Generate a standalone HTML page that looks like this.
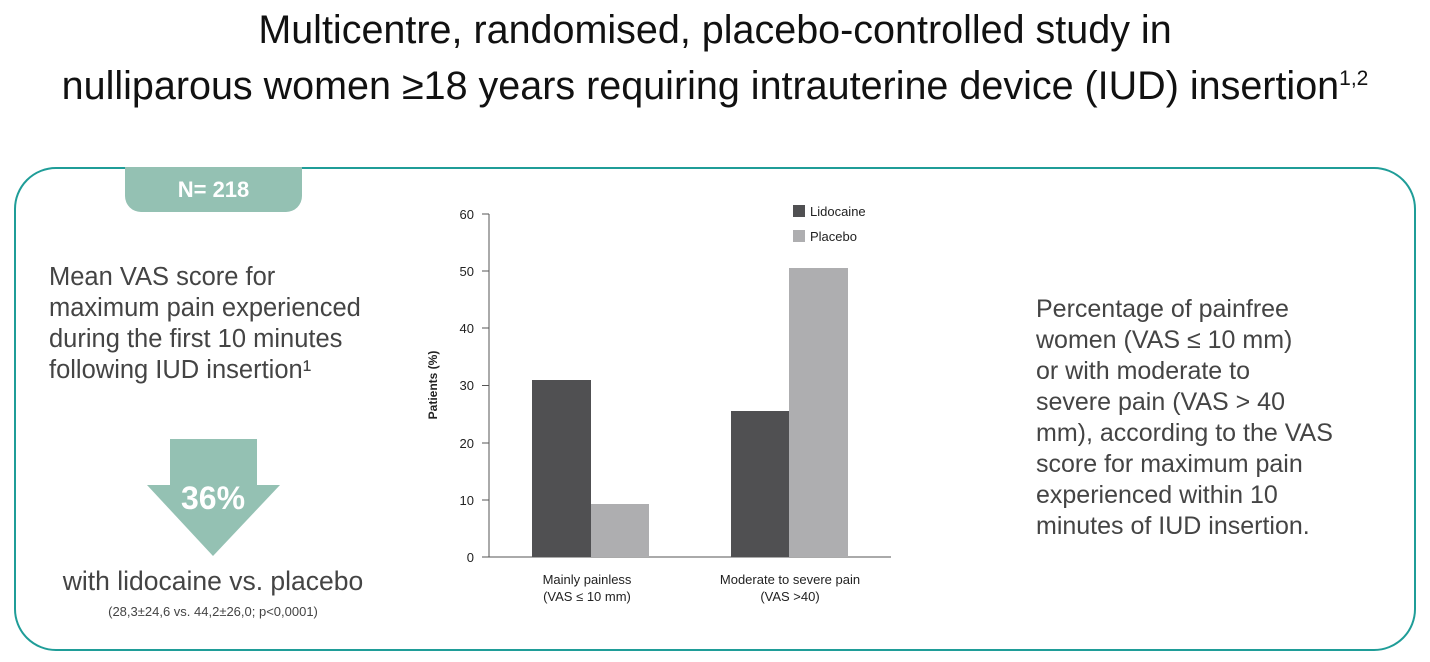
<!DOCTYPE html>
<html><head><meta charset="utf-8"><style>
body{margin:0;width:1430px;height:662px;background:#fff;font-family:"Liberation Sans",sans-serif;color:#333;position:relative;overflow:hidden}
.t{position:absolute;left:0;width:1430px;text-align:center;font-size:39.5px;color:#111}
.box{position:absolute;left:14px;top:167px;width:1398px;height:480px;border:2.5px solid #1f9d98;border-radius:42px}
.badge{position:absolute;left:125px;top:167px;width:177px;height:45px;background:#94c1b3;border-radius:0 0 16px 16px;color:#fff;font-weight:bold;font-size:22px;text-align:center;line-height:45px}
.lt{position:absolute;left:49px;top:262px;font-size:25.5px;line-height:31px;color:#444}
.rt{position:absolute;left:1036px;top:294px;font-size:25px;line-height:31px;color:#444}
</style></head><body>
<div class="t" style="top:8px">Multicentre, randomised, placebo-controlled study in</div>
<div class="t" style="top:64px">nulliparous women ≥18 years requiring intrauterine device (IUD) insertion<sup style="font-size:21px">1,2</sup></div>
<div class="box"></div>
<div class="badge">N= 218</div>
<div class="lt">Mean VAS score for<br>maximum pain experienced<br>during the first 10 minutes<br>following IUD insertion¹</div>
<svg style="position:absolute;left:0;top:0" width="1430" height="662">
<rect x="170" y="439" width="87" height="47" fill="#94c1b3"/>
<polygon points="147,485 280,485 213,556" fill="#94c1b3"/>
<text x="213" y="509" font-size="32" font-weight="bold" fill="#fff" text-anchor="middle" font-family="Liberation Sans">36%</text>
<text x="213" y="590" font-size="26.5" fill="#444" text-anchor="middle" font-family="Liberation Sans">with lidocaine vs. placebo</text>
<text x="213" y="616" font-size="13" fill="#444" text-anchor="middle" font-family="Liberation Sans">(28,3±24,6 vs. 44,2±26,0; p&lt;0,0001)</text>
<g font-family="Liberation Sans" font-size="13" fill="#222">
<line x1="489" y1="214" x2="489" y2="557" stroke="#555"/>
<line x1="489" y1="557" x2="891" y2="557" stroke="#555"/>
<g stroke="#555"><line x1="482" y1="214" x2="489" y2="214"/><line x1="482" y1="271" x2="489" y2="271"/><line x1="482" y1="328" x2="489" y2="328"/><line x1="482" y1="385.5" x2="489" y2="385.5"/><line x1="482" y1="443" x2="489" y2="443"/><line x1="482" y1="500" x2="489" y2="500"/><line x1="482" y1="557" x2="489" y2="557"/></g>
<g text-anchor="end"><text x="474" y="219">60</text><text x="474" y="276">50</text><text x="474" y="333">40</text><text x="474" y="390">30</text><text x="474" y="448">20</text><text x="474" y="505">10</text><text x="474" y="562">0</text></g>
<text transform="translate(437,385) rotate(-90)" text-anchor="middle" font-size="12" font-weight="bold">Patients (%)</text>
<rect x="532" y="380" width="59" height="177" fill="#505052"/>
<rect x="591" y="504" width="58" height="53" fill="#aeaeb0"/>
<rect x="731" y="411" width="58" height="146" fill="#505052"/>
<rect x="789" y="268" width="59" height="289" fill="#aeaeb0"/>
<rect x="793" y="205" width="12" height="12" fill="#505052"/><text x="810" y="216">Lidocaine</text>
<rect x="793" y="230" width="12" height="12" fill="#aeaeb0"/><text x="810" y="241">Placebo</text>
<g text-anchor="middle"><text x="587" y="584">Mainly painless</text><text x="587" y="601">(VAS ≤ 10 mm)</text>
<text x="790" y="584">Moderate to severe pain</text><text x="790" y="601">(VAS &gt;40)</text></g>
</g></svg>
<div class="rt">Percentage of painfree<br>women (VAS ≤ 10 mm)<br>or with moderate to<br>severe pain (VAS &gt; 40<br>mm), according to the VAS<br>score for maximum pain<br>experienced within 10<br>minutes of IUD insertion.</div>
</body></html>
